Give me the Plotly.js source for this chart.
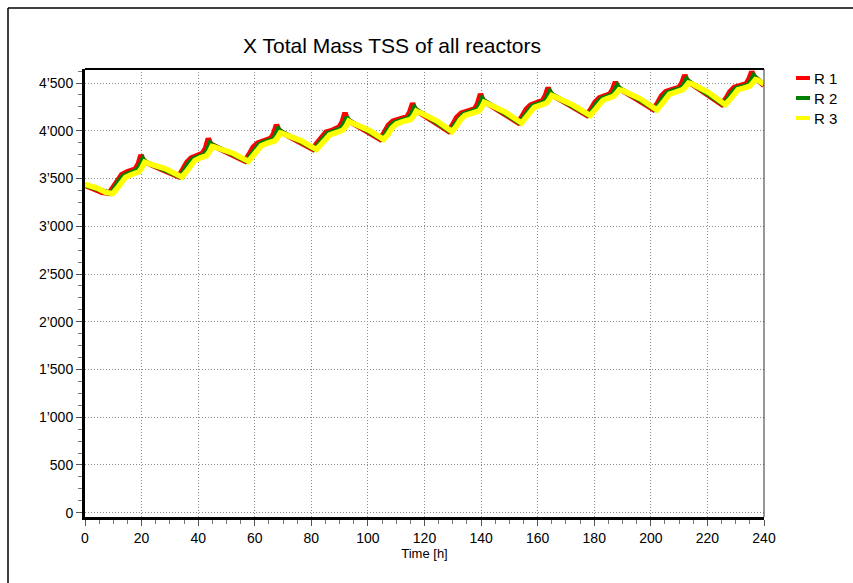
<!DOCTYPE html>
<html>
<head>
<meta charset="utf-8">
<script src="https://cdn.plot.ly/plotly-3.0.1.min.js"></script>
<style>
  html, body { margin: 0; padding: 0; background: #fff; }
  #chart { width: 853px; height: 583px; }
</style>
</head>
<body>
<div id="chart"></div>
<script>
// ---- data ----
const seriesNames = ["R 1", "R 2", "R 3"];

const t1 = [0, 3, 6, 8.5, 10, 11.5, 13, 15, 17.8, 18.8, 19.8, 20.5, 21.5, 27, 33,
  34.5, 36, 37.5, 39.5, 41.6, 42.6, 43.6, 44.3, 45.3, 51, 56.5,
  58, 59.5, 61, 63, 65.7, 66.7, 67.7, 68.4, 69.4, 75, 80.5,
  82, 83.5, 85.2, 87.5, 89.9, 90.9, 91.9, 92.6, 93.6, 99, 104.2,
  105.7, 107.2, 108.8, 111, 113.8, 114.8, 115.8, 116.5, 117.5, 123, 128.4,
  129.9, 131.4, 133, 135, 137.8, 138.8, 139.8, 140.5, 141.5, 147, 153,
  154.5, 156, 157.5, 159.5, 161.7, 162.7, 163.7, 164.4, 165.4, 171, 177.3,
  178.8, 180.3, 181.8, 183.5, 185.5, 186.5, 187.5, 188.2, 189.2, 195, 200.8,
  202.3, 203.8, 205.3, 207.5, 210, 211, 212, 212.7, 213.7, 219, 225,
  226.5, 228, 229.5, 231.5, 233.7, 234.7, 235.7, 236.4, 237.4, 240];
const r1 = [3430, 3395, 3355, 3345, 3415, 3495, 3540, 3570, 3600, 3650, 3747, 3692, 3668, 3597, 3520,
  3590, 3670, 3715, 3745, 3765, 3815, 3920, 3865, 3845, 3763, 3684,
  3750, 3830, 3870, 3895, 3920, 3970, 4062, 4010, 3985, 3895, 3807,
  3870, 3935, 3985, 4005, 4040, 4090, 4187, 4125, 4098, 4004, 3913,
  3975, 4055, 4100, 4120, 4145, 4195, 4288, 4230, 4205, 4100, 3997,
  4060, 4140, 4185, 4205, 4230, 4285, 4385, 4325, 4300, 4198, 4086,
  4150, 4225, 4270, 4290, 4315, 4365, 4452, 4395, 4370, 4274, 4165,
  4225, 4300, 4345, 4365, 4385, 4430, 4511, 4460, 4435, 4330, 4225,
  4285, 4365, 4410, 4430, 4455, 4500, 4583, 4530, 4505, 4399, 4278,
  4335, 4410, 4455, 4470, 4490, 4540, 4619, 4570, 4545, 4475];

const t2 = [0, 3.6, 6.6, 9.1, 10.6, 12.1, 13.6, 15.6, 18.4, 19.4, 20.4, 21.1, 22.1, 27.6, 33.6,
  35.1, 36.6, 38.1, 40.1, 42.2, 43.2, 44.2, 44.9, 45.9, 51.6, 57.1,
  58.6, 60.1, 61.6, 63.6, 66.3, 67.3, 68.3, 69.0, 70.0, 75.6, 81.1,
  82.6, 84.1, 85.8, 88.1, 90.5, 91.5, 92.5, 93.2, 94.2, 99.6, 104.8,
  106.3, 107.8, 109.4, 111.6, 114.4, 115.4, 116.4, 117.1, 118.1, 123.6, 129.0,
  130.5, 132.0, 133.6, 135.6, 138.4, 139.4, 140.4, 141.1, 142.1, 147.6, 153.6,
  155.1, 156.6, 158.1, 160.1, 162.3, 163.3, 164.3, 165.0, 166.0, 171.6, 177.9,
  179.4, 180.9, 182.4, 184.1, 186.1, 187.1, 188.1, 188.8, 189.8, 195.6, 201.4,
  202.9, 204.4, 205.9, 208.1, 210.6, 211.6, 212.6, 213.3, 214.3, 219.6, 225.6,
  227.1, 228.6, 230.1, 232.1, 234.3, 235.3, 236.3, 237.0, 238.0, 240];
const r2 = [3432, 3397, 3357, 3345, 3405, 3480, 3528, 3558, 3588, 3632, 3705, 3680, 3662, 3598, 3520,
  3582, 3658, 3703, 3733, 3752, 3795, 3872, 3850, 3838, 3762, 3684,
  3742, 3818, 3858, 3883, 3908, 3950, 4018, 3995, 3978, 3894, 3807,
  3862, 3922, 3972, 3993, 4025, 4068, 4140, 4110, 4090, 4004, 3913,
  3968, 4043, 4088, 4108, 4132, 4175, 4243, 4218, 4198, 4100, 3997,
  4053, 4128, 4173, 4193, 4218, 4263, 4338, 4312, 4292, 4196, 4086,
  4143, 4213, 4258, 4278, 4302, 4345, 4410, 4382, 4362, 4268, 4165,
  4218, 4288, 4333, 4353, 4373, 4412, 4472, 4448, 4428, 4331, 4225,
  4278, 4353, 4398, 4418, 4443, 4480, 4540, 4518, 4498, 4398, 4278,
  4328, 4398, 4443, 4458, 4478, 4520, 4578, 4555, 4535, 4485];

const t3 = [0, 4.3, 7.3, 9.8, 11.3, 12.8, 14.3, 16.3, 19.1, 20.1, 21.1, 21.8, 22.8, 28.3, 34.3,
  35.8, 37.3, 38.8, 40.8, 42.9, 43.9, 44.9, 45.6, 46.6, 52.3, 57.8,
  59.3, 60.8, 62.3, 64.3, 67.0, 68.0, 69.0, 69.7, 70.7, 76.3, 81.8,
  83.3, 84.8, 86.5, 88.8, 91.2, 92.2, 93.2, 93.9, 94.9, 100.3, 105.5,
  107.0, 108.5, 110.1, 112.3, 115.1, 116.1, 117.1, 117.8, 118.8, 124.3, 129.7,
  131.2, 132.7, 134.3, 136.3, 139.1, 140.1, 141.1, 141.8, 142.8, 148.3, 154.3,
  155.8, 157.3, 158.8, 160.8, 163.0, 164.0, 165.0, 165.7, 166.7, 172.3, 178.6,
  180.1, 181.6, 183.1, 184.8, 186.8, 187.8, 188.8, 189.5, 190.5, 196.3, 202.1,
  203.6, 205.1, 206.6, 208.8, 211.3, 212.3, 213.3, 214.0, 215.0, 220.3, 226.3,
  227.8, 229.3, 230.8, 232.8, 235.0, 236.0, 237.0, 237.7, 238.7, 240];
const r3 = [3440, 3400, 3355, 3342, 3395, 3465, 3512, 3540, 3570, 3612, 3672, 3665, 3652, 3605, 3515,
  3570, 3642, 3688, 3718, 3738, 3775, 3835, 3830, 3822, 3765, 3680,
  3732, 3802, 3843, 3868, 3893, 3928, 3978, 3972, 3960, 3897, 3803,
  3852, 3908, 3957, 3980, 4008, 4045, 4100, 4090, 4078, 4007, 3910,
  3958, 4028, 4073, 4095, 4118, 4152, 4205, 4195, 4185, 4105, 3993,
  4045, 4115, 4160, 4180, 4205, 4240, 4298, 4290, 4278, 4200, 4082,
  4133, 4200, 4245, 4265, 4288, 4322, 4370, 4362, 4350, 4272, 4160,
  4210, 4275, 4320, 4340, 4360, 4392, 4430, 4425, 4415, 4335, 4220,
  4270, 4340, 4385, 4405, 4430, 4462, 4500, 4495, 4485, 4402, 4273,
  4320, 4385, 4430, 4447, 4467, 4500, 4535, 4530, 4518, 4490];

const xTickVals = [0, 20, 40, 60, 80, 100, 120, 140, 160, 180, 200, 220, 240];
const yTickVals = [0, 500, 1000, 1500, 2000, 2500, 3000, 3500, 4000, 4500];
const yTickText = ["0", "500", "1\u2019000", "1\u2019500", "2\u2019000", "2\u2019500", "3\u2019000", "3\u2019500", "4\u2019000", "4\u2019500"];

const chartTitle = "X Total Mass TSS of all reactors";
const xTitle = "Time [h]";
const colors = ["#FF0000", "#008000", "#FFFF00"];

// ---- figure ----
const W = 853, H = 583;
const L = 85, R = 764, T = 69, B = 517;
const px = v => (v - L) / (R - L);
const py = v => (B - v) / (B - T);

const font = "Liberation Sans, Arial, Helvetica, sans-serif";

const traces = [
  {x: t1, y: r1, name: seriesNames[0], line: {color: colors[0], width: 5.5}},
  {x: t2, y: r2, name: seriesNames[1], line: {color: colors[1], width: 5}},
  {x: t3, y: r3, name: seriesNames[2], line: {color: colors[2], width: 5.5}}
].map(t => Object.assign({type: "scatter", mode: "lines", hoverinfo: "skip"}, t));

const shapes = [
  // top & right frame of the plot area
  {type: "line", xref: "paper", yref: "paper", x0: 0, x1: 1, y0: 1, y1: 1, line: {color: "#000", width: 2}},
  {type: "line", xref: "paper", yref: "paper", x0: 1, x1: 1, y0: 0, y1: 1, line: {color: "#333", width: 1}},
  // outer frame (left & top)
  {type: "line", xref: "paper", yref: "paper", x0: px(8), x1: px(8), y0: py(8), y1: py(600), line: {color: "#000", width: 1.5}},
  {type: "line", xref: "paper", yref: "paper", x0: px(8), x1: px(870), y0: py(8), y1: py(8), line: {color: "#000", width: 1.5}}
];
const annotations = [];
const legY = [78, 98, 118];
seriesNames.forEach((n, i) => {
  shapes.push({type: "line", xref: "paper", yref: "paper", x0: px(796), x1: px(810), y0: py(legY[i]), y1: py(legY[i]),
    line: {color: colors[i], width: 4}});
  annotations.push({xref: "paper", yref: "paper", x: px(812), y: py(legY[i]), xanchor: "left", yanchor: "middle",
    text: n, showarrow: false, font: {family: font, size: 15, color: "#000"}});
});

const layout = {
  width: W, height: H,
  margin: {l: L, r: W - R, t: T, b: H - B, pad: 0},
  paper_bgcolor: "#fff", plot_bgcolor: "#fff",
  font: {family: font, color: "#000"},
  showlegend: false,
  title: {text: chartTitle, font: {family: font, size: 21, color: "#000"},
    xref: "paper", x: px(243), xanchor: "left", yref: "container", y: 1 - 46 / H, yanchor: "middle"},
  xaxis: {
    range: [0, 240], tickvals: xTickVals, ticktext: xTickVals.map(String),
    showline: true, linecolor: "#000", linewidth: 3, mirror: false,
    ticks: "outside", ticklen: 6, tickcolor: "#555", tickwidth: 1,
    minor: {dtick: 5, tick0: 0, ticks: "outside", ticklen: 4, tickcolor: "#777", showgrid: false},
    showgrid: true, gridcolor: "#8c8c8c", griddash: "1px,2px", gridwidth: 1,
    zeroline: false, tickfont: {size: 14, family: font},
    title: {text: xTitle, font: {size: 13, family: font}, standoff: 2},
    fixedrange: true
  },
  yaxis: {
    range: [-45, 4647], tickvals: yTickVals, ticktext: yTickText,
    showline: true, linecolor: "#000", linewidth: 3, mirror: false,
    ticks: "outside", ticklen: 6, tickcolor: "#555", tickwidth: 1,
    minor: {dtick: 125, tick0: 0, ticks: "outside", ticklen: 4, tickcolor: "#777", showgrid: false},
    showgrid: true, gridcolor: "#8c8c8c", griddash: "1px,2px", gridwidth: 1,
    zeroline: false, tickfont: {size: 14, family: font},
    fixedrange: true
  },
  shapes: shapes,
  annotations: annotations
};

Plotly.newPlot("chart", traces, layout, {displayModeBar: false, staticPlot: true});
</script>
</body>
</html>
